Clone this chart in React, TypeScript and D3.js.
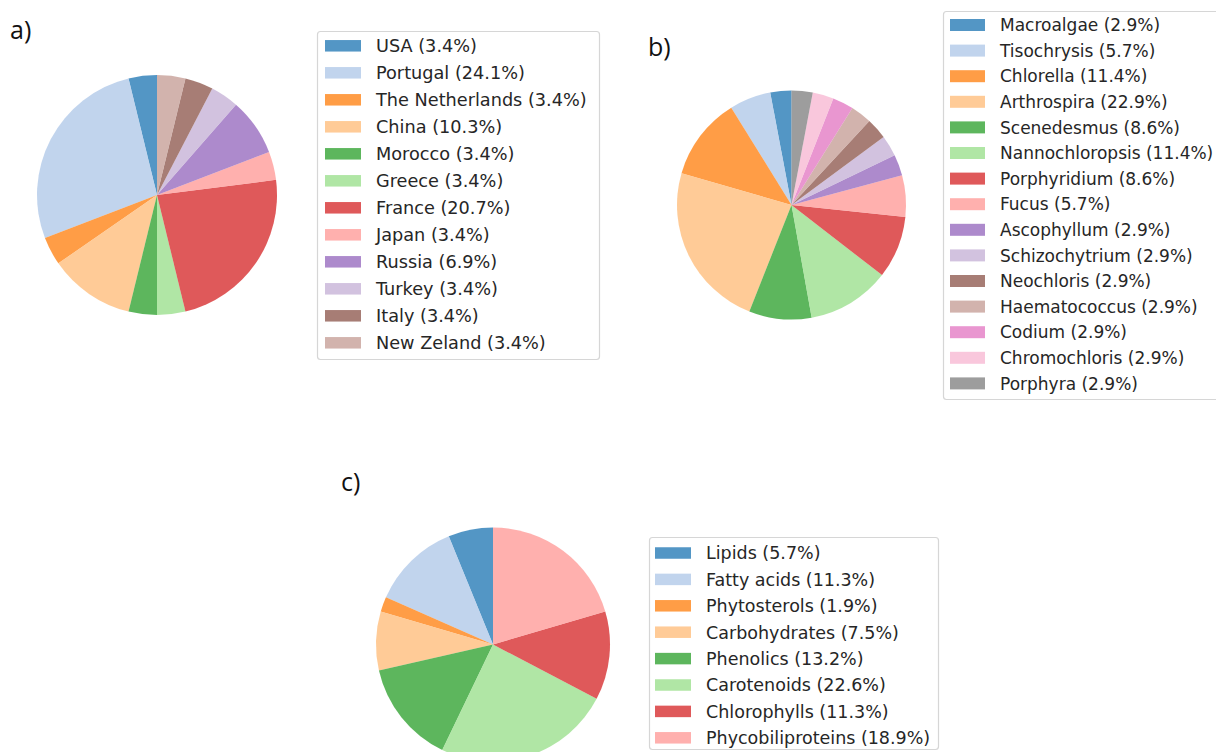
import React from "react";
import * as d3 from "d3";

// matplotlib "tab20" palette
const tab20 = [
  "#1f77b4", "#aec7e8", "#ff7f0e", "#ffbb78", "#2ca02c", "#98df8a",
  "#d62728", "#ff9896", "#9467bd", "#c5b0d5", "#8c564b", "#c49c94",
  "#e377c2", "#f7b6d2", "#7f7f7f", "#c7c7c7",
];

// a) countries
const countryLabels = [
  "USA", "Portugal", "The Netherlands", "China", "Morocco", "Greece",
  "France", "Japan", "Russia", "Turkey", "Italy", "New Zeland",
];
const countryShares = [3.4, 24.1, 3.4, 10.3, 3.4, 3.4, 20.7, 3.4, 6.9, 3.4, 3.4, 3.4];

// b) organisms
const genusLabels = [
  "Macroalgae", "Tisochrysis", "Chlorella", "Arthrospira", "Scenedesmus",
  "Nannochloropsis", "Porphyridium", "Fucus", "Ascophyllum", "Schizochytrium",
  "Neochloris", "Haematococcus", "Codium", "Chromochloris", "Porphyra",
];
const genusShares = [2.9, 5.7, 11.4, 22.9, 8.6, 11.4, 8.6, 5.7, 2.9, 2.9, 2.9, 2.9, 2.9, 2.9, 2.9];

// c) compounds
const compoundLabels = [
  "Lipids", "Fatty acids", "Phytosterols", "Carbohydrates",
  "Phenolics", "Carotenoids", "Chlorophylls", "Phycobiliproteins",
];
const compoundShares = [5.7, 11.3, 1.9, 7.5, 13.2, 22.6, 11.3, 18.9];

const ALPHA = 0.77;
const TEXT_FONT = "'DejaVu Sans', sans-serif";
const TAG_FONT = "'Open Sans', 'Liberation Sans', sans-serif";

type LegendSpec = {
  x: number; y: number; w: number; h: number;
  firstRow: number; step: number; fontSize: number;
  swX: number; swW: number; swH: number; textX: number;
};

type PanelProps = {
  tag: string; tagX: number; tagY: number;
  cx: number; cy: number; r: number;
  labels: string[]; values: number[];
  legend: LegendSpec;
};

function PiePanel({ tag, tagX, tagY, cx, cy, r, labels, values, legend }: PanelProps) {
  // start at 12 o'clock and go counter-clockwise
  const pie = d3.pie<number>().sort(null).value((d) => d).startAngle(0).endAngle(-2 * Math.PI);
  const arcs = pie(values);
  const arc = d3.arc<d3.PieArcDatum<number>>().innerRadius(0).outerRadius(r);
  const color = d3.scaleOrdinal<number, string>().domain(d3.range(tab20.length)).range(tab20);
  return (
    <g>
      <text x={tagX} y={tagY} fontFamily={TAG_FONT} fontSize={25} fill="#111">{tag}</text>
      <g transform={`translate(${cx},${cy})`}>
        {arcs.map((a, i) => (
          <path key={i} d={arc(a) ?? ""} fill={color(i)} fillOpacity={ALPHA} />
        ))}
      </g>
      <rect x={legend.x} y={legend.y} width={legend.w} height={legend.h} rx={3}
        fill="#fff" stroke="#d6d6d6" strokeWidth={1.2} />
      {labels.map((lab, i) => {
        const yc = legend.firstRow + i * legend.step;
        return (
          <g key={lab}>
            <rect x={legend.swX} y={yc - legend.swH / 2} width={legend.swW} height={legend.swH}
              fill={color(i)} fillOpacity={ALPHA} />
            <text x={legend.textX} y={yc} dy="0.36em" fontFamily={TEXT_FONT}
              fontSize={legend.fontSize} fill="#262626">
              {`${lab} (${values[i].toFixed(1)}%)`}
            </text>
          </g>
        );
      })}
    </g>
  );
}

export default function App() {
  return (
    <svg width={1216} height={752} style={{ position: "absolute", left: 0, top: 0, background: "#fff" }}>
      <rect width={1216} height={752} fill="#fff" />
      <PiePanel
        tag="a)" tagX={10} tagY={39}
        cx={157} cy={195} r={120}
        labels={countryLabels} values={countryShares}
        legend={{ x: 317.5, y: 31.5, w: 282, h: 328, firstRow: 45.8, step: 27.0, fontSize: 17.7,
          swX: 325, swW: 36, swH: 11.5, textX: 376 }}
      />
      <PiePanel
        tag="b)" tagX={648} tagY={56}
        cx={791.5} cy={205} r={114.5}
        labels={genusLabels} values={genusShares}
        legend={{ x: 943.5, y: 11.5, w: 290, h: 388, firstRow: 25, step: 25.6, fontSize: 17,
          swX: 950, swW: 35, swH: 12, textX: 1000 }}
      />
      <PiePanel
        tag="c)" tagX={341} tagY={491}
        cx={493} cy={644.5} r={117}
        labels={compoundLabels} values={compoundShares}
        legend={{ x: 649.5, y: 537.5, w: 289, h: 212, firstRow: 553, step: 26.4, fontSize: 17.5,
          swX: 655, swW: 36, swH: 11.5, textX: 706 }}
      />
    </svg>
  );
}
